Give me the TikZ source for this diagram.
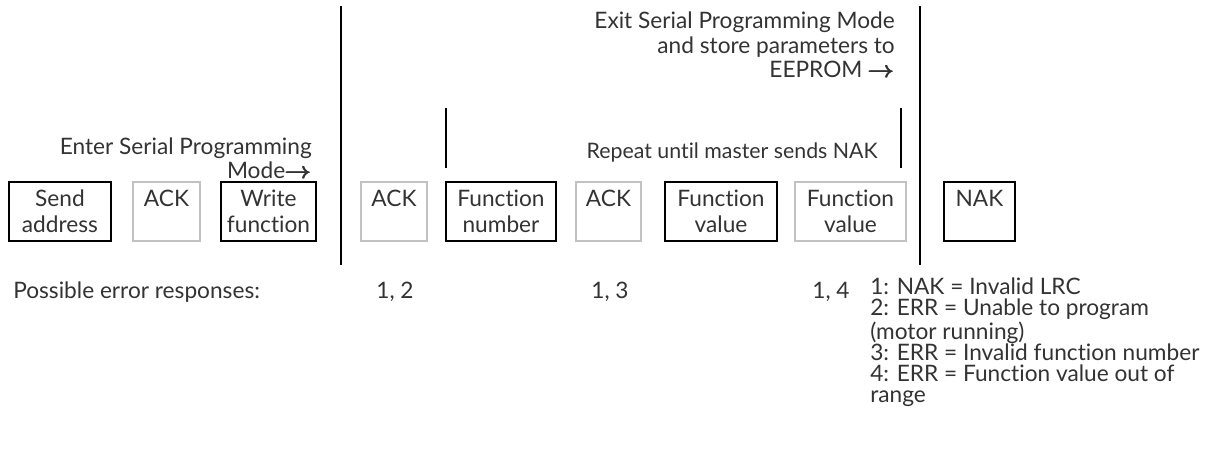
\documentclass[tikz,border=0pt]{standalone}
\usepackage{amsmath}
\usepackage{fontspec}
\setmainfont{Lato}[Ligatures=NoCommon]
\usepackage{tikz}
\definecolor{txtgray}{rgb}{0.2,0.2,0.2}
\definecolor{boxgray}{rgb}{0.76,0.76,0.76}
\newcommand{\rarr}{$\pmb{\boldsymbol{\rightarrow}}$}
\newcommand{\bstrut}{\rule[-0.18\baselineskip]{0pt}{\baselineskip}}
\tikzset{
  msgbox/.style={draw=black, line width=1.5pt, align=center, minimum height=44.25pt, inner sep=0pt, text=txtgray, font=\fontsize{17}{19.5}\selectfont},
  ackbox/.style={msgbox, draw=boxgray},
  heading/.style={text=txtgray, inner sep=0pt, font=\fontsize{17}{18.4}\selectfont},
  errtext/.style={text=txtgray, inner sep=0pt, align=left, font=\fontsize{17}{15.75}\selectfont},
  divider/.style={line width=1.5pt},
}

\begin{document}
\begin{tikzpicture}[line cap=butt,line join=miter,x=0.75pt,y=-0.75pt]
\useasboundingbox (0,0) rectangle (1214,449);
\node[msgbox, minimum width=76.5pt] (send) at (60,211.5) {\bstrut Send\\\bstrut address};
\node[ackbox, minimum width=50.25pt] (ack1) at (166.5,211.5) {\bstrut ACK\\\bstrut};
\node[msgbox, minimum width=71.25pt] (write) at (268.5,211.5) {\bstrut Write\\\bstrut function};
\node[ackbox, minimum width=49.5pt] (ack2) at (394,211.5) {\bstrut ACK\\\bstrut};
\node[msgbox, minimum width=82.5pt] (fnum) at (501,211.5) {\bstrut Function\\\bstrut number};
\node[ackbox, minimum width=48.75pt] (ack3) at (608.5,211.5) {\bstrut ACK\\\bstrut};
\node[msgbox, minimum width=84pt] (fval) at (721,211.5) {\bstrut Function\\\bstrut value};
\node[ackbox, minimum width=83.25pt] (fecho) at (850.5,211.5) {\bstrut Function\\\bstrut value};
\node[msgbox, minimum width=53.25pt] (nak) at (979.5,211.5) {\bstrut NAK\\\bstrut};
\coordinate (entertop) at (341,6);
\coordinate (enterbot) at (341,265);
\coordinate (exittop) at (920,6);
\coordinate (exitbot) at (920,265);
\coordinate (reptop) at (446,108);
\coordinate (repbot) at (446,168);
\coordinate (rependtop) at (901,108);
\coordinate (rependbot) at (901,168);
\draw [divider] (entertop) -- (enterbot);
\draw [divider] (exittop) -- (exitbot);
\draw [divider] (reptop) -- (repbot);
\draw [divider] (rependtop) -- (rependbot);
\node[heading, align=right, anchor=base east] (enter) at (312,179) {Enter Serial Programming\\Mode\rarr};
\node[heading, align=right, anchor=base east] (exit) at (895,78) {Exit Serial Programming Mode\\and store parameters to\\EEPROM \rarr};
\node[heading, anchor=base east, font=\fontsize{16}{18.4}\selectfont] (repeat) at (878,159) {Repeat until master sends NAK};
\node[heading, anchor=base west] (possible) at (13,298) {Possible error responses:};
\node[heading, anchor=base] (err12) at (395,298) {1, 2};
\node[heading, anchor=base] (err13) at (610,298) {1, 3};
\node[heading, anchor=base] (err14) at (831,298) {1, 4};
\node[errtext, anchor=base west] (errlist) at (870,402) {1: NAK = Invalid LRC\\2: ERR = Unable to program\\(motor running)\\3: ERR = Invalid function number\\4: ERR = Function value out of\\range};
\end{tikzpicture}
\end{document}
